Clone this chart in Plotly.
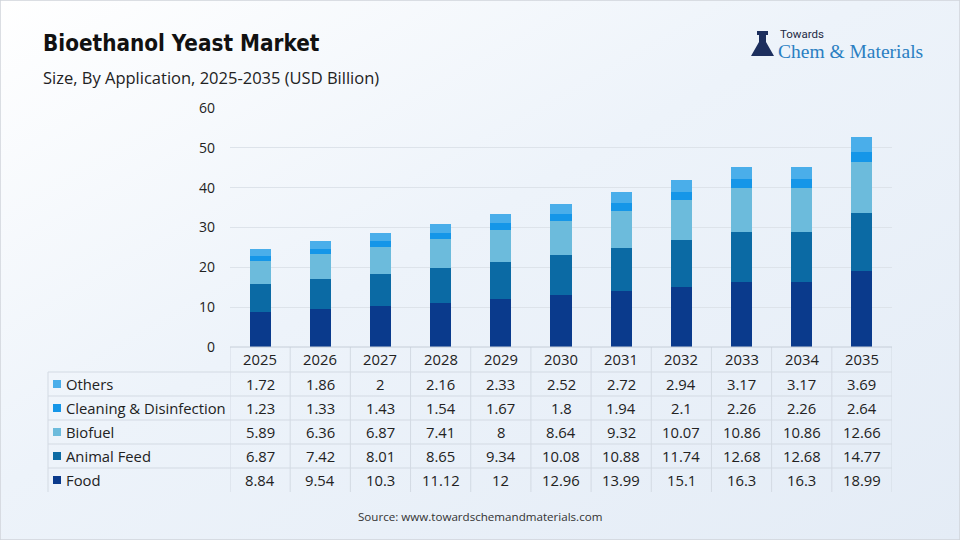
import base64
import plotly.graph_objects as go

W, H = 960, 540

years = ["2025", "2026", "2027", "2028", "2029", "2030", "2031", "2032", "2033", "2034", "2035"]
food = [8.84, 9.54, 10.3, 11.12, 12, 12.96, 13.99, 15.1, 16.3, 16.3, 18.99]
animal_feed = [6.87, 7.42, 8.01, 8.65, 9.34, 10.08, 10.88, 11.74, 12.68, 12.68, 14.77]
biofuel = [5.89, 6.36, 6.87, 7.41, 8, 8.64, 9.32, 10.07, 10.86, 10.86, 12.66]
cleaning = [1.23, 1.33, 1.43, 1.54, 1.67, 1.8, 1.94, 2.1, 2.26, 2.26, 2.64]
others = [1.72, 1.86, 2, 2.16, 2.33, 2.52, 2.72, 2.94, 3.17, 3.17, 3.69]

series_names = ["Food", "Animal Feed", "Biofuel", "Cleaning & Disinfection", "Others"]
series_values = [food, animal_feed, biofuel, cleaning, others]
colors = ["#0a3a8c", "#0b6aa4", "#6cbbdc", "#1596e8", "#4aaeea"]
y_ticks = [0, 10, 20, 30, 40, 50, 60]

FONT = "Open Sans"


def px(x):
    return x / W


def py(y):
    return 1 - y / H


fig = go.Figure()
for name, vals, col in zip(series_names, series_values, colors):
    fig.add_trace(go.Bar(x=years, y=vals, name=name, marker=dict(color=col, line=dict(width=0)),
                         width=0.35, showlegend=False))

# background gradient
svg = ('<svg xmlns="http://www.w3.org/2000/svg" width="960" height="540">'
       '<defs><linearGradient id="g" x1="0" y1="0" x2="1" y2="1">'
       '<stop offset="0" stop-color="#ffffff"/><stop offset="0.45" stop-color="#edf3fa"/>'
       '<stop offset="1" stop-color="#e4ecf6"/></linearGradient></defs>'
       '<rect width="960" height="540" fill="url(#g)"/></svg>')
bg = "data:image/svg+xml;base64," + base64.b64encode(svg.encode()).decode()

shapes = []
annotations = []
line_col = "#d3dae3"

# table grid
row_tops = [372, 396, 420, 444, 468]
for ry in row_tops:
    shapes.append(dict(type="line", xref="paper", yref="paper", x0=px(48), x1=px(892),
                       y0=py(ry), y1=py(ry), line=dict(color=line_col, width=1), layer="below"))
shapes.append(dict(type="line", xref="paper", yref="paper", x0=px(230), x1=px(892),
                   y0=py(347), y1=py(347), line=dict(color="#c6ced8", width=1)))
for k in range(len(years) + 1):
    shapes.append(dict(type="line", xref="x", yref="paper", x0=k - 0.5, x1=k - 0.5,
                       y0=py(347), y1=py(492), line=dict(color=line_col, width=1), layer="below"))
shapes.append(dict(type="line", xref="paper", yref="paper", x0=px(48), x1=px(48),
                   y0=py(372), y1=py(492), line=dict(color=line_col, width=1), layer="below"))

TFS = 14.8
# header years
for i, yr in enumerate(years):
    annotations.append(dict(x=i, xref="x", y=py(359), yref="paper", text=yr, showarrow=False,
                            font=dict(family=FONT, size=TFS, color="#222"), xanchor="center", yanchor="middle"))

row_centers = [384, 408, 432, 456, 480]
table_rows = list(zip(series_names, series_values, colors))[::-1]
for (name, vals, col), rc in zip(table_rows, row_centers):
    shapes.append(dict(type="rect", xref="paper", yref="paper", x0=px(53), x1=px(61),
                       y0=py(rc - 4), y1=py(rc + 4), fillcolor=col, line=dict(width=0)))
    annotations.append(dict(x=px(64), xref="paper", y=py(rc), yref="paper", text=name, showarrow=False,
                            font=dict(family=FONT, size=TFS, color="#222"), xanchor="left", yanchor="middle"))
    for i, v in enumerate(vals):
        annotations.append(dict(x=i, xref="x", y=py(rc), yref="paper", text=f"{v:g}", showarrow=False,
                                font=dict(family=FONT, size=TFS, color="#222"), xanchor="center",
                                yanchor="middle"))

# titles
annotations.append(dict(x=px(41), y=py(43), xref="paper", yref="paper", text="<b>Bioethanol Yeast Market</b>",
                        showarrow=False, xanchor="left", yanchor="middle",
                        font=dict(family="DejaVu Sans Condensed", size=22.3, color="#111")))
annotations.append(dict(x=px(41), y=py(77), xref="paper", yref="paper",
                        text="Size, By Application, 2025-2035 (USD Billion)",
                        showarrow=False, xanchor="left", yanchor="middle",
                        font=dict(family=FONT, size=16.5, color="#222")))
annotations.append(dict(x=px(480), y=py(516), xref="paper", yref="paper",
                        text="Source: www.towardschemandmaterials.com",
                        showarrow=False, xanchor="center", yanchor="middle",
                        font=dict(family=FONT, size=11.6, color="#333")))

# logo
annotations.append(dict(x=px(778), y=py(34), xref="paper", yref="paper", text="Towards", showarrow=False,
                        xanchor="left", yanchor="middle", font=dict(family="Roboto", size=11.5, color="#1d2a44")))
annotations.append(dict(x=px(776), y=py(51), xref="paper", yref="paper", text="Chem &amp; Materials",
                        showarrow=False, xanchor="left", yanchor="middle",
                        font=dict(family="Liberation Serif", size=19.5, color="#2a7fc2")))
shapes.append(dict(type="path", xref="paper", yref="paper",
                   path=f"M {px(759)},{py(35)} L {px(766)},{py(35)} L {px(766)},{py(42)} L {px(774)},{py(56)} "
                        f"L {px(751)},{py(56)} L {px(759)},{py(42)} Z",
                   fillcolor="#1d2f5e", line=dict(width=0)))
shapes.append(dict(type="rect", xref="paper", yref="paper", x0=px(757), x1=px(768), y0=py(31), y1=py(35),
                   fillcolor="#1d2f5e", line=dict(width=0)))

# outer border
shapes.append(dict(type="rect", xref="paper", yref="paper", x0=0, x1=1, y0=0, y1=1,
                   line=dict(color="#cfd4da", width=1.5), fillcolor="rgba(0,0,0,0)"))

fig.update_layout(
    width=W, height=H, margin=dict(l=0, r=0, t=0, b=0, pad=0), autosize=False,
    barmode="stack", bargap=0.65,
    paper_bgcolor="#eef3fa", plot_bgcolor="rgba(0,0,0,0)",
    images=[dict(source=bg, xref="paper", yref="paper", x=0, y=1, sizex=1, sizey=1,
                 sizing="stretch", layer="below", xanchor="left", yanchor="top")],
    xaxis=dict(type="category", domain=[px(230), px(892)], showticklabels=False, showgrid=False,
               zeroline=False, range=[-0.5, len(years) - 0.5], fixedrange=True, automargin=False),
    yaxis=dict(domain=[py(347), py(108)], range=[0, 60], tickvals=y_ticks, showgrid=True,
               gridcolor="#dde3ea", gridwidth=1, zeroline=False, automargin=False,
               tickfont=dict(family=FONT, size=14, color="#222"), ticklabelstandoff=14),
    shapes=shapes, annotations=annotations,
)

fig.write_html("out.html")
